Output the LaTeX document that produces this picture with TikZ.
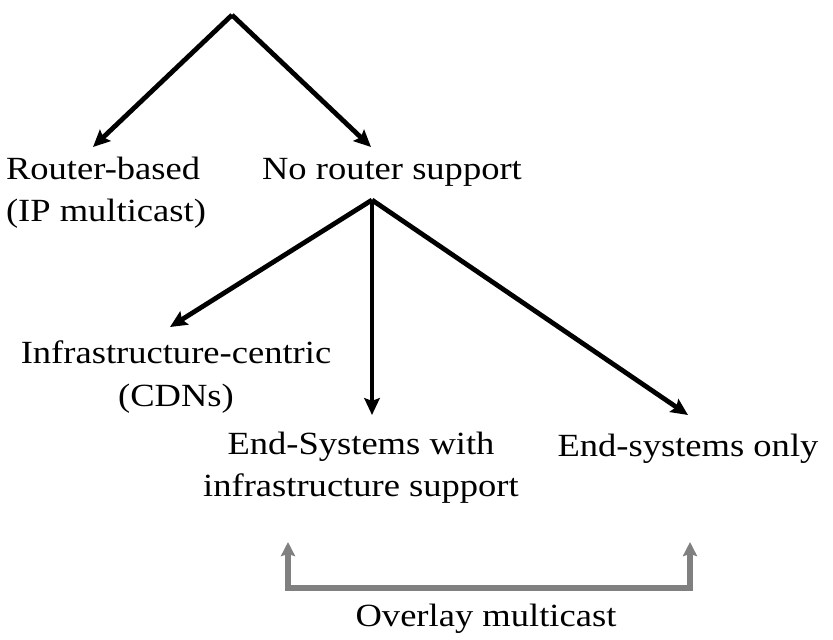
\documentclass[tikz,border=0pt]{standalone}
\usepackage{fontspec}
\setmainfont[FakeStretch=1.13]{Liberation Serif}
\usetikzlibrary{
	arrows.meta,
	calc,
	positioning
}
\tikzset{
	MC-Label/.style={align=center,inner sep=0pt,font=\fontsize{23}{30}\selectfont},
	MC-Arrow/.style={-{Stealth[length=12pt,width=11pt,inset=2pt]},line width=3.4pt},
	MC-Bracket/.style={{Stealth[length=10pt,width=10pt,inset=1.5pt]}-{Stealth[length=10pt,width=10pt,inset=1.5pt]},line width=3.6pt,draw=black!50}
}

\begin{document}
\begin{tikzpicture}[x=0.025cm,y=-0.025cm]
	\useasboundingbox (0,0) rectangle (833,639);
	% top of the tree
	\coordinate (top) at (232,15);
	\node[MC-Label,align=left] (router) at (106,193) {Router-based\\(IP multicast)};
	\node[MC-Label] (norouter) at (392,172) {No router support};
	\node[MC-Label] (infra) at (176,377) {Infrastructure-centric\\(CDNs)};
	\node[MC-Label] (endinfra) at (361,468) {End-Systems with\\infrastructure support};
	\node[MC-Label] (endonly) at (688,449) {End-systems only};
	\node[MC-Label] (overlay) at (486,619) {Overlay multicast};
	\coordinate (fork) at ($(norouter.center)+(-20,28)$);
	% first level
	\draw[MC-Arrow] (top) -- ($(router.center)+(-13,-46)$);
	\draw[MC-Arrow] (top) -- ($(norouter.center)+(-21,-25)$);
	% second level
	\draw[MC-Arrow] (fork) -- ($(infra.center)+(-6,-50)$);
	\draw[MC-Arrow] (fork) -- ($(endinfra.center)+(11,-53)$);
	\draw[MC-Arrow] (fork) -- ($(endonly.center)+(0,-34)$);
	% overlay bracket
	\coordinate (ovl-left) at ($(endinfra.center)+(-73,74)$);
	\coordinate (ovl-right) at ($(endonly.center)+(2,93)$);
	\draw[MC-Bracket] (ovl-left) -- ($(overlay.center)+(-198,-31)$) -| (ovl-right);
\end{tikzpicture}
\end{document}
